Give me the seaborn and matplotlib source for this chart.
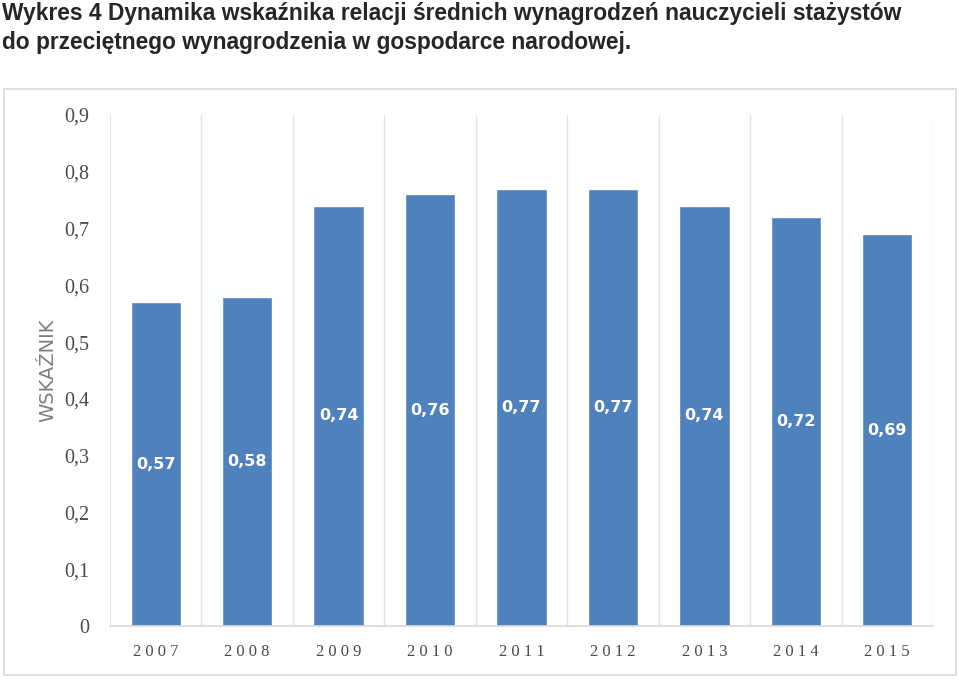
import numpy as np
import pandas as pd
import seaborn as sns
import matplotlib.pyplot as plt
from matplotlib.patches import Rectangle

years = ["2007", "2008", "2009", "2010", "2011", "2012", "2013", "2014", "2015"]
values = [0.57, 0.58, 0.74, 0.76, 0.77, 0.77, 0.74, 0.72, 0.69]
yticks = [0, 0.1, 0.2, 0.3, 0.4, 0.5, 0.6, 0.7, 0.8, 0.9]

title = ("Wykres 4 Dynamika wskaźnika relacji średnich wynagrodzeń nauczycieli stażystów\n"
         "do przeciętnego wynagrodzenia w gospodarce narodowej.")

df = pd.DataFrame({"rok": years, "wskaznik": values})

sns.set_style("white")
plt.rcParams['font.family'] = ['DejaVu Sans']

fig = plt.figure(figsize=(9.59, 6.8), dpi=100)
ax = fig.add_axes([110/959, 54/680, 823/959, 511/680])

sns.barplot(data=df, x="rok", y="wskaznik", color="#4f81bd", width=0.55,
            saturation=1, ax=ax)

ax.set_xlim(-0.5, len(years) - 0.5)
ax.set_ylim(0, 0.9)
ax.set_yticks(yticks)
ax.set_yticklabels([("%g" % t).replace(".", ",") for t in yticks],
                   family="Liberation Serif", fontsize=14.5, color="#4a4a4a")
ax.set_xticks(range(len(years)))
ax.set_xticklabels([" ".join(y) for y in years],
                   family="Liberation Serif", fontsize=12, color="#4a4a4a")
ax.tick_params(axis="y", length=5, color="#d9d9d9", pad=10)
ax.tick_params(axis="x", length=0, pad=13)

# vertical lines between categories
ax.set_xticks(np.arange(0.5, len(years), 1), minor=True)
ax.tick_params(axis="x", which="minor", length=0)
ax.grid(which="minor", axis="x", color="#e3e3e3", linewidth=1)
ax.grid(which="major", visible=False)

for side in ["top", "right"]:
    ax.spines[side].set_visible(False)
ax.spines["left"].set_color("#e3e3e3")
ax.spines["bottom"].set_color("#d9d9d9")
ax.spines["bottom"].set_linewidth(1.2)

ax.set_xlabel("")
ax.set_ylabel("WSKAŹNIK", fontsize=14, color="#7f7f7f", labelpad=5)

for bar, v in zip(ax.patches, values):
    ax.text(bar.get_x() + bar.get_width() / 2, v / 2, ("%.2f" % v).replace(".", ","),
            ha="center", va="center", color="white", fontsize=11.5, fontweight="bold")

fig.patches.append(Rectangle((4/959, 5/680), 952/959, 586/680, transform=fig.transFigure,
                             fill=False, edgecolor="#d9d9d9", linewidth=1.2))

fig.text(0.002, 0.997, title, ha="left", va="top", fontsize=16.4, fontweight="bold",
         family=["Liberation Sans Narrow", "Liberation Sans", "DejaVu Sans"],
         linespacing=1.35)

fig.savefig("out.png", dpi=100)
